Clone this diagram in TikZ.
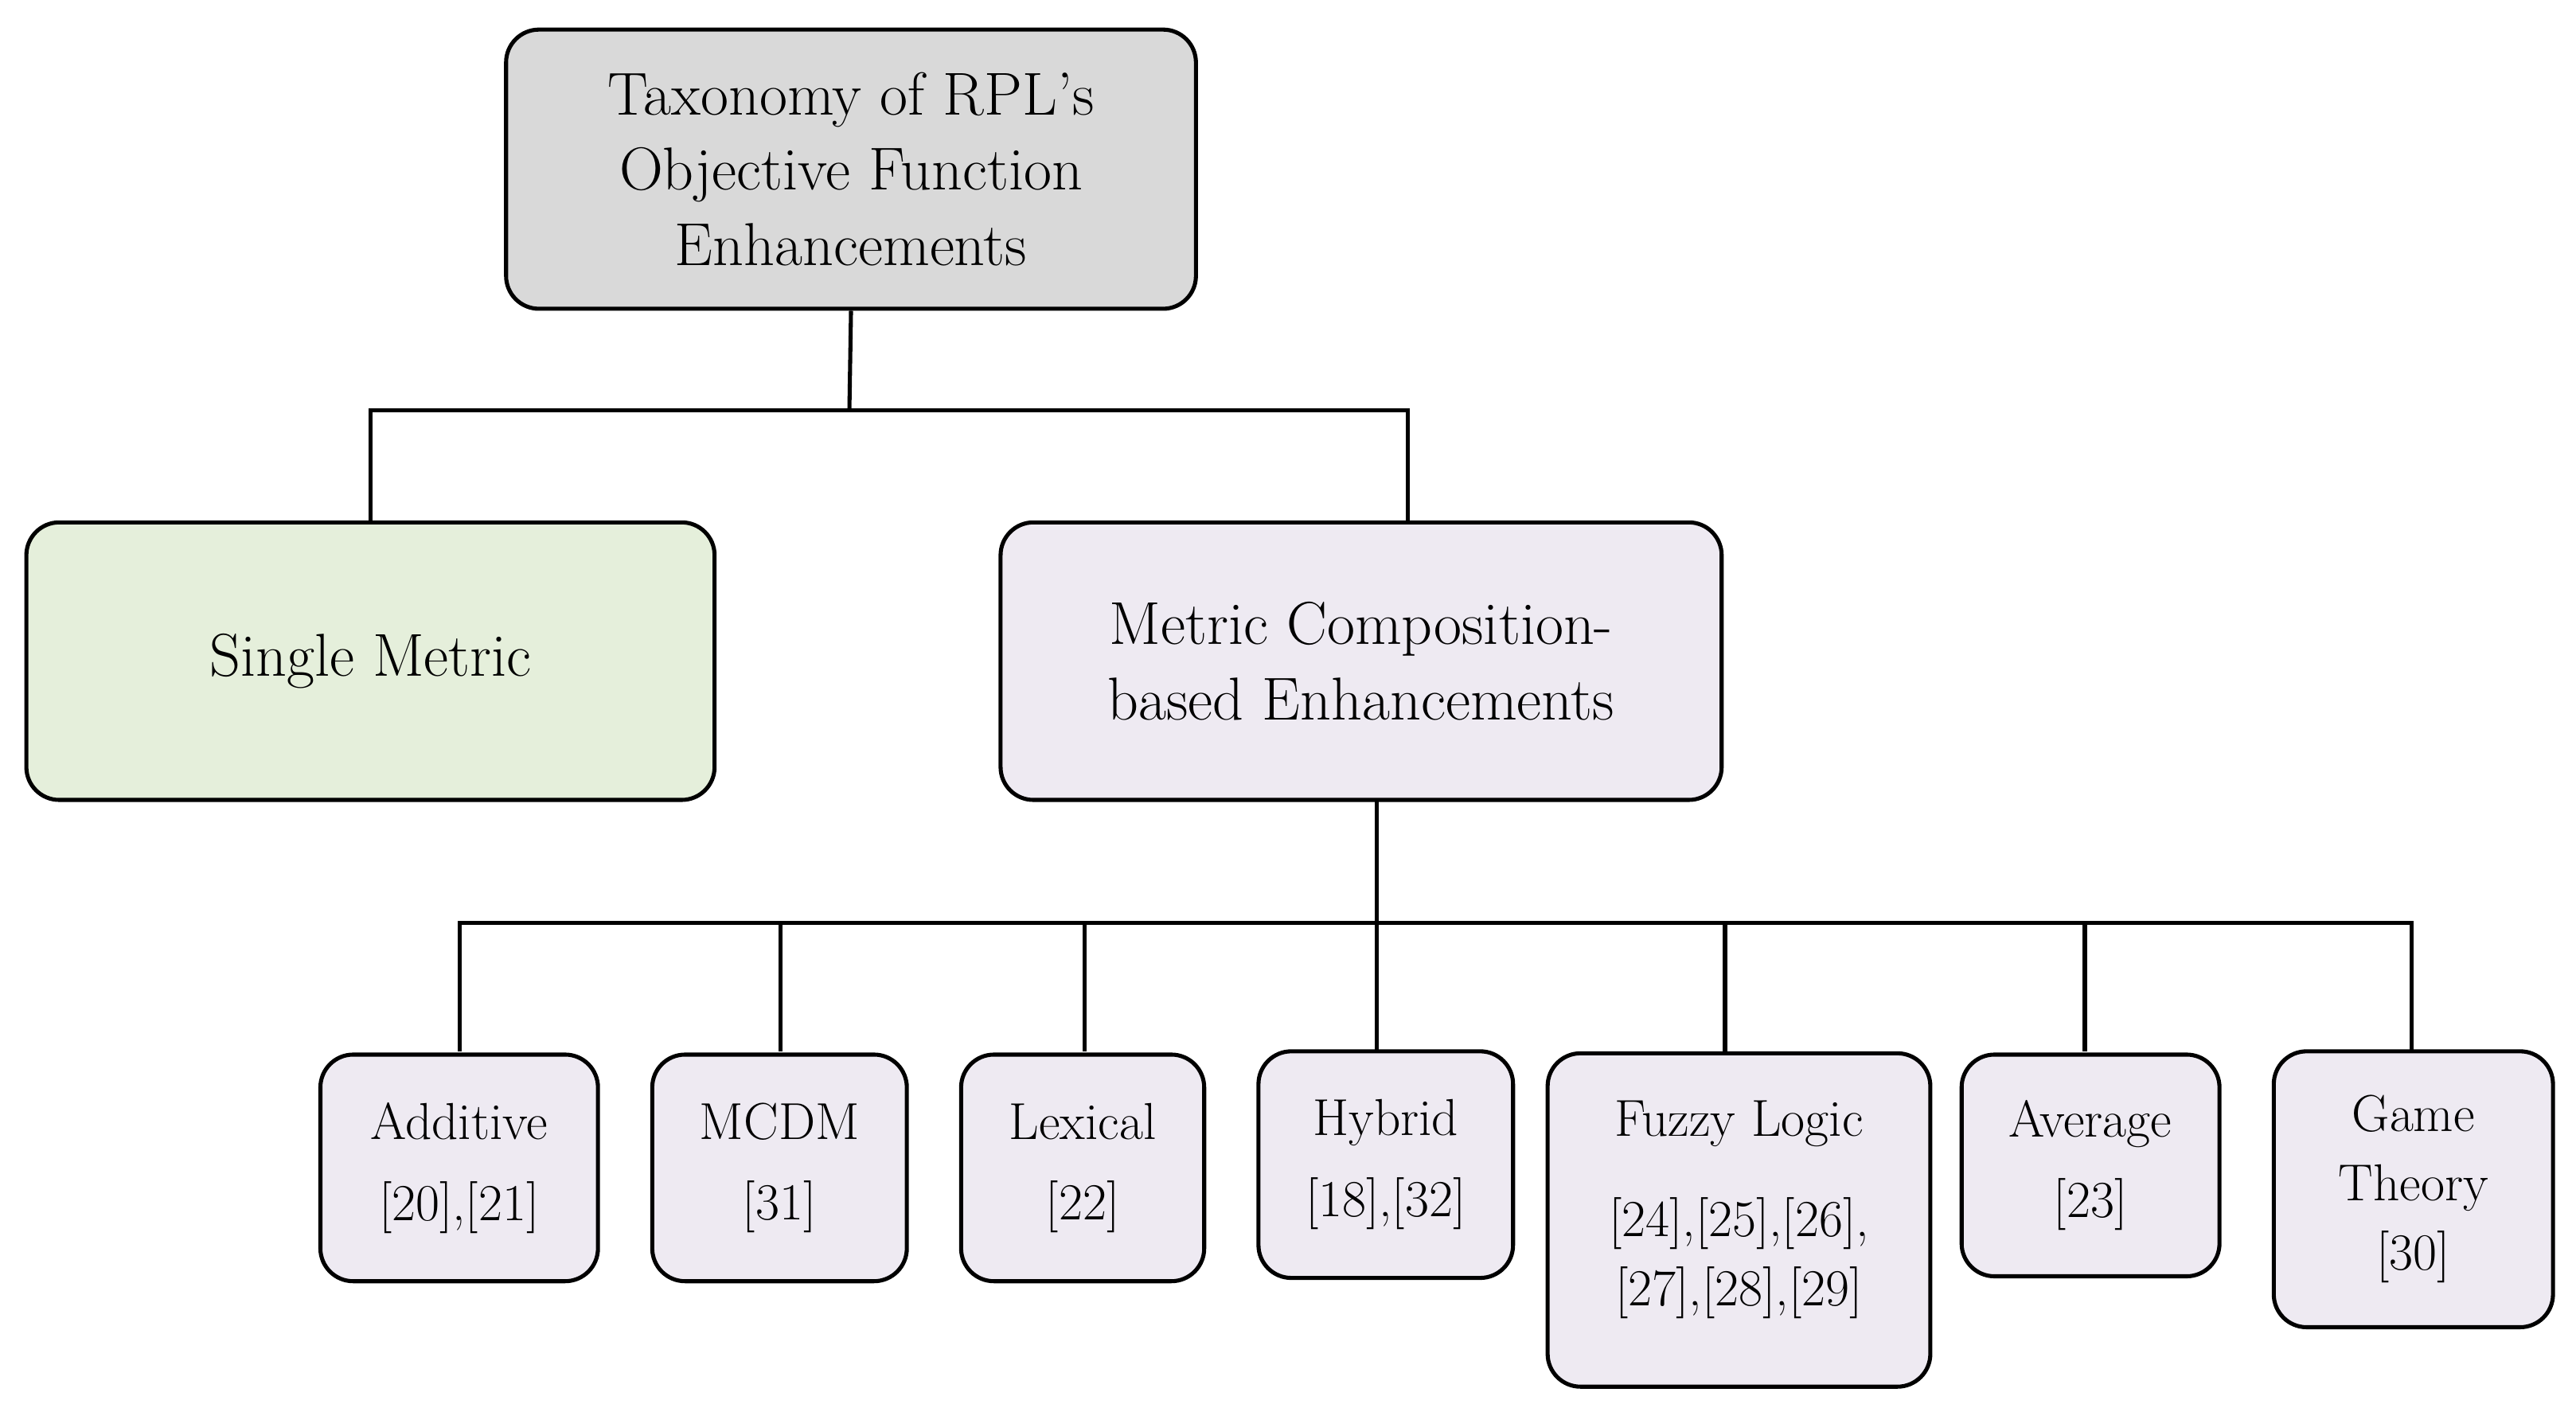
\documentclass[tikz,border=0pt]{standalone}
\begin{document}
\begin{tikzpicture}[x=0.02cm,y=-0.02cm,
 box/.style={draw=black,line width=1.4pt,rounded corners=0.4cm,align=center,inner sep=0pt,font=\fontsize{21}{26}\selectfont},
 leaf/.style={box,fill=lav,font=\fontsize{18}{24}\selectfont},
 conn/.style={line width=1.4pt}]
\definecolor{lav}{HTML}{EEEAF2}
\definecolor{grn}{HTML}{E5EFDB}
\definecolor{gry}{HTML}{D9D9D9}
\useasboundingbox (0,0) rectangle (1568,857);
\node[box,fill=gry,minimum width=8.4cm,minimum height=3.4cm] (root) at (518,103) {Taxonomy of RPL's\\Objective Function\\Enhancements};
\node[box,fill=grn,minimum width=8.38cm,minimum height=3.38cm] (single) at (225.5,402.5) {Single Metric};
\node[box,fill=lav,minimum width=8.78cm,minimum height=3.38cm] (mc) at (828.5,402.5) {Metric Composition-\\based Enhancements};
\node[leaf,minimum width=3.38cm,minimum height=2.76cm] (l1) at (279.5,711) {Additive\\[4pt][20],[21]};
\node[leaf,minimum width=3.1cm,minimum height=2.76cm] (l2) at (474.5,711) {MCDM\\[4pt][31]};
\node[leaf,minimum width=2.96cm,minimum height=2.76cm] (l3) at (659,711) {Lexical\\[4pt][22]};
\node[leaf,minimum width=3.1cm,minimum height=2.76cm] (l4) at (843.5,709) {Hybrid\\[4pt][18],[32]};
\node[leaf,minimum width=4.66cm,minimum height=4.06cm,anchor=north] (l5) at (1058.5,640) {};
\node[font=\fontsize{18}{24}\selectfont,align=center] at (1058.5,684) {Fuzzy Logic};
\node[font=\fontsize{18}{24}\selectfont,align=center] at (1058.5,766) {[24],[25],[26],\\{}[27],[28],[29]};
\node[leaf,minimum width=3.14cm,minimum height=2.7cm] (l6) at (1272.5,709.5) {Average\\[4pt][23]};
\node[leaf,minimum width=3.4cm,minimum height=3.36cm] (l7) at (1469,724) {Game\\Theory\\{}[30]};
\coordinate (b1) at (517,250);
\draw[conn] (root.south) -- (b1);
\draw[conn] (b1) -| (single.north);
\draw[conn] (b1) -| (857,318);
\coordinate (b2) at (838,562);
\draw[conn] (838,487) -- (b2);
\foreach \n/\x in {l1/280,l2/475,l3/660,l4/838,l5/1050,l6/1269,l7/1468}{
 \draw[conn] (b2) -| (\x,640);}
\end{tikzpicture}
\end{document}
